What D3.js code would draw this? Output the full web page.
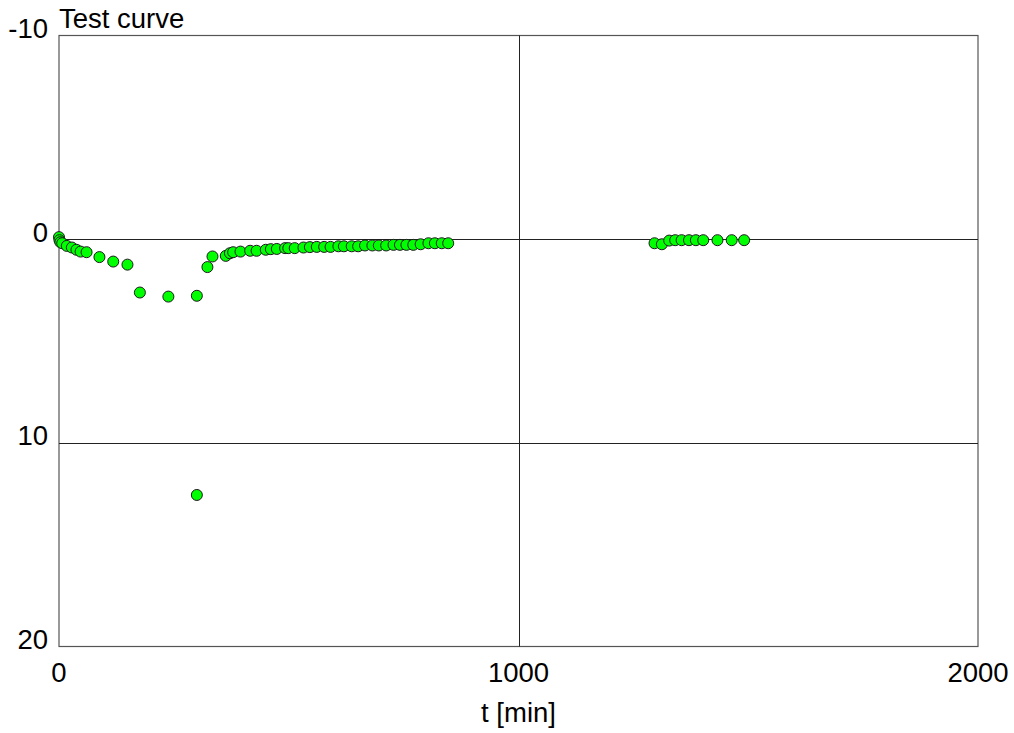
<!DOCTYPE html>
<html>
<head>
  <meta charset="utf-8">
  <title>Test curve</title>
  <style type="text/css">
    body { margin: 0; background: #fff; }
    svg text { font-family: "Liberation Sans", Arial, sans-serif; fill: #000; }
  </style>
</head>
<body>
  <div id="chart"></div>
  <script src="https://cdn.jsdelivr.net/npm/d3@7"></script>
  <script type="text/javascript">
    // t [min] and measured value
    var times = [0, 1, 3, 7, 17, 28, 38, 47, 60, 88, 118, 149, 176, 238, 300, 300,
      323, 334, 363, 372, 379, 395, 416, 430, 450, 461, 474, 492, 499, 513, 532, 546,
      561, 577, 591, 608, 620, 637, 651, 666, 682, 696, 712, 728, 742, 756, 771, 787,
      804, 818, 833, 847,
      1296, 1312, 1328, 1341, 1355, 1371, 1386, 1402, 1433, 1464, 1491];
    var values = [-0.1, 0.05, 0.15, 0.2, 0.33, 0.41, 0.52, 0.61, 0.64, 0.88, 1.1, 1.25, 2.62, 2.82, 2.78, 12.56,
      1.37, 0.85, 0.82, 0.69, 0.64, 0.61, 0.57, 0.57, 0.52, 0.49, 0.48, 0.44, 0.44, 0.44, 0.41, 0.39,
      0.38, 0.38, 0.38, 0.35, 0.35, 0.35, 0.35, 0.31, 0.31, 0.31, 0.31, 0.28, 0.28, 0.28, 0.28, 0.25,
      0.2, 0.2, 0.2, 0.2,
      0.2, 0.25, 0.07, 0.05, 0.05, 0.05, 0.05, 0.05, 0.05, 0.05, 0.05];
    var xTicks = [0, 1000, 2000];
    var yTicks = [-10, 0, 10, 20];

    var W = 1014, H = 733;
    var pLeft = 59, pRight = 978, pTop = 35.5, pBottom = 646.5;
    var fontSize = "27.5px";

    var svg = d3.select("#chart").append("svg")
      .attr("width", W)
      .attr("height", H);

    var x = d3.scaleLinear().domain([0, 2000]).range([pLeft, pRight]);
    var y = d3.scaleLinear().domain([-10, 20]).range([pTop, pBottom]);

    // frame
    svg.append("rect")
      .attr("x", pLeft).attr("y", pTop)
      .attr("width", pRight - pLeft).attr("height", pBottom - pTop)
      .attr("fill", "none").attr("stroke", "#555").attr("stroke-width", 1.2);

    // grid
    svg.selectAll(".vgrid")
      .data(xTicks.slice(1, -1))
      .enter().append("line")
      .attr("x1", function (d) { return Math.round(x(d)) + 0.5; })
      .attr("x2", function (d) { return Math.round(x(d)) + 0.5; })
      .attr("y1", pTop).attr("y2", pBottom)
      .attr("stroke", "#222");
    svg.selectAll(".hgrid")
      .data(yTicks.slice(1, -1))
      .enter().append("line")
      .attr("y1", function (d) { return Math.round(y(d)) + 0.5; })
      .attr("y2", function (d) { return Math.round(y(d)) + 0.5; })
      .attr("x1", pLeft).attr("x2", pRight)
      .attr("stroke", "#222");

    // tick labels
    svg.selectAll(".xlab")
      .data(xTicks)
      .enter().append("text")
      .attr("x", function (d) { return x(d); })
      .attr("y", 682)
      .attr("text-anchor", "middle")
      .style("font-size", fontSize)
      .text(function (d) { return d; });
    svg.selectAll(".ylab")
      .data(yTicks)
      .enter().append("text")
      .attr("x", 48)
      .attr("y", function (d) { return y(d) + 2.5; })
      .attr("text-anchor", "end")
      .style("font-size", fontSize)
      .text(function (d) { return d; });

    svg.append("text")
      .attr("x", (pLeft + pRight) / 2)
      .attr("y", 722)
      .attr("text-anchor", "middle")
      .style("font-size", fontSize)
      .text("t [min]");

    svg.append("text")
      .attr("x", pLeft)
      .attr("y", 28)
      .style("font-size", fontSize)
      .text("Test curve");

    // points
    svg.selectAll("circle")
      .data(d3.range(times.length))
      .enter().append("circle")
      .attr("cx", function (i) { return x(times[i]); })
      .attr("cy", function (i) { return y(values[i]); })
      .attr("r", 5.5)
      .attr("fill", "#00ff00")
      .attr("stroke", "#1a1a1a")
      .attr("stroke-width", 1);
  </script>
</body>
</html>
